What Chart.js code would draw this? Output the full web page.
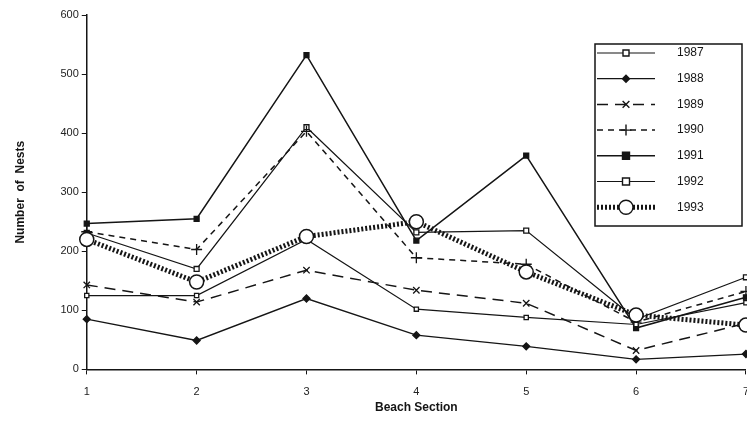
<!DOCTYPE html>
<html>
<head>
<meta charset="utf-8">
<script src="https://cdn.jsdelivr.net/npm/chart.js@4/dist/chart.umd.min.js"></script>
<style>
  html, body { margin: 0; padding: 0; background: #fff; overflow: hidden; }
  #wrap { width: 747px; height: 438px; overflow: hidden; }
</style>
</head>
<body>
<div id="wrap"><canvas id="grafico" width="760" height="438"></canvas></div>
<script>
// Dados
const secoes = ['1', '2', '3', '4', '5', '6', '7'];
const anos = ['1987', '1988', '1989', '1990', '1991', '1992', '1993'];
const ninhos1987 = [125, 125, 220, 102, 88, 76, 113];
const ninhos1988 = [85, 49, 120, 58, 39, 17, 26];
const ninhos1989 = [143, 114, 168, 134, 112, 32, 78];
const ninhos1990 = [233, 203, 403, 189, 178, 80, 132];
const ninhos1991 = [247, 255, 532, 218, 362, 70, 122];
const ninhos1992 = [231, 170, 410, 232, 235, 85, 156];
const ninhos1993 = [220, 148, 225, 250, 165, 92, 75];
const yTicks = [0, 100, 200, 300, 400, 500, 600];

const preto = '#151515';

// estilo de cada ano (linha + marcador)
const estilos = [
    { width: 1.2, dash: [], point: 'rect', radius: 3, fill: '#fff' },
    { width: 1.3, dash: [], point: 'rectRot', radius: 3.5, fill: preto },
    { width: 1.5, dash: [11, 7], point: 'crossRot', radius: 4.5, fill: preto },
    { width: 1.5, dash: [6, 5], point: 'cross', radius: 5.5, fill: preto },
    { width: 1.5, dash: [], point: 'rect', radius: 3.5, fill: preto },
    { width: 1.2, dash: [], point: 'rect', radius: 3.5, fill: '#fff' },
    { width: 5, dash: [2, 2], point: 'circle', radius: 7, fill: '#fff' }
];
const series = [ninhos1987, ninhos1988, ninhos1989, ninhos1990, ninhos1991, ninhos1992, ninhos1993];

const datasets = series.map(function (valores, i) {
    const e = estilos[i];
    return {
        label: anos[i],
        data: valores,
        borderColor: preto,
        borderWidth: e.width,
        borderDash: e.dash,
        borderCapStyle: 'butt',
        tension: 0,
        fill: false,
        pointStyle: e.point,
        pointRadius: e.radius,
        pointBackgroundColor: e.fill,
        pointBorderColor: preto,
        pointBorderWidth: i === 6 ? 1.5 : 1.3,
        order: i === 6 ? 0 : 1
    };
});

// desenha um marcador simples na legenda
function marcador(ctx, e, x, y) {
    const r = e.radius;
    ctx.save();
    ctx.setLineDash([]);
    ctx.lineWidth = 1.4;
    ctx.strokeStyle = preto;
    ctx.fillStyle = e.fill;
    ctx.beginPath();
    if (e.point === 'circle') {
        ctx.arc(x, y, r, 0, Math.PI * 2);
        ctx.fill(); ctx.stroke();
    } else if (e.point === 'rect') {
        ctx.rect(x - r, y - r, r * 2, r * 2);
        ctx.fill(); ctx.stroke();
    } else if (e.point === 'rectRot') {
        ctx.moveTo(x, y - r); ctx.lineTo(x + r, y); ctx.lineTo(x, y + r); ctx.lineTo(x - r, y);
        ctx.closePath(); ctx.fill(); ctx.stroke();
    } else if (e.point === 'cross') {
        ctx.moveTo(x - r, y); ctx.lineTo(x + r, y); ctx.moveTo(x, y - r); ctx.lineTo(x, y + r);
        ctx.stroke();
    } else if (e.point === 'crossRot') {
        const d = r * 0.75;
        ctx.moveTo(x - d, y - d); ctx.lineTo(x + d, y + d); ctx.moveTo(x + d, y - d); ctx.lineTo(x - d, y + d);
        ctx.stroke();
    }
    ctx.restore();
}

// legenda em caixa dentro da área do gráfico
const legendaCaixa = {
    id: 'legendaCaixa',
    afterDraw: function (chart) {
        const ctx = chart.ctx;
        const x0 = 595, y0 = 44, w = 147, h = 182;
        ctx.save();
        ctx.fillStyle = '#fff';
        ctx.fillRect(x0, y0, w, h);
        ctx.strokeStyle = preto;
        ctx.lineWidth = 1.5;
        ctx.strokeRect(x0, y0, w, h);
        ctx.font = '12px "Liberation Sans", Arial, sans-serif';
        ctx.textBaseline = 'middle';
        chart.data.datasets.forEach(function (ds, i) {
            const e = estilos[i];
            const y = 53 + i * 25.7;
            ctx.save();
            ctx.strokeStyle = preto;
            ctx.lineWidth = e.width;
            ctx.setLineDash(e.dash);
            ctx.beginPath();
            ctx.moveTo(597, y);
            ctx.lineTo(655, y);
            ctx.stroke();
            ctx.restore();
            marcador(ctx, e, 626, y);
            ctx.fillStyle = preto;
            ctx.fillText(ds.label, 677, y);
        });
        ctx.restore();
    }
};

const ctx = document.getElementById('grafico').getContext('2d');
new Chart(ctx, {
    type: 'line',
    data: { labels: secoes, datasets: datasets },
    plugins: [legendaCaixa],
    options: {
        responsive: false,
        animation: false,
        layout: { padding: { top: 15, left: 13, right: 0, bottom: 23 } },
        plugins: {
            legend: { display: false },
            tooltip: { enabled: false }
        },
        scales: {
            x: {
                offset: false,
                grid: { drawOnChartArea: false, drawTicks: true, tickLength: 5, color: preto },
                border: { color: preto, width: 1.5 },
                ticks: { color: '#222', padding: 11, font: { family: '"Liberation Sans", Arial, sans-serif', size: 11 } },
                title: {
                    display: true,
                    text: 'Beach Section',
                    color: preto,
                    padding: { top: -9, bottom: 0 },
                    font: { family: '"Liberation Sans", Arial, sans-serif', size: 12, weight: 'bold' }
                }
            },
            y: {
                min: 0,
                max: 600,
                afterBuildTicks: function (axis) {
                    axis.ticks = yTicks.map(function (v) { return { value: v }; });
                },
                grid: { drawOnChartArea: false, drawTicks: true, tickLength: 5, color: preto },
                border: { color: preto, width: 1.5 },
                ticks: { color: '#222', padding: 3, font: { family: '"Liberation Sans", Arial, sans-serif', size: 11 } },
                title: {
                    display: true,
                    text: 'Number  of  Nests',
                    color: preto,
                    padding: { top: 0, bottom: 30 },
                    font: { family: '"Liberation Sans", Arial, sans-serif', size: 12, weight: 'bold' }
                }
            }
        }
    }
});
</script>
</body>
</html>
